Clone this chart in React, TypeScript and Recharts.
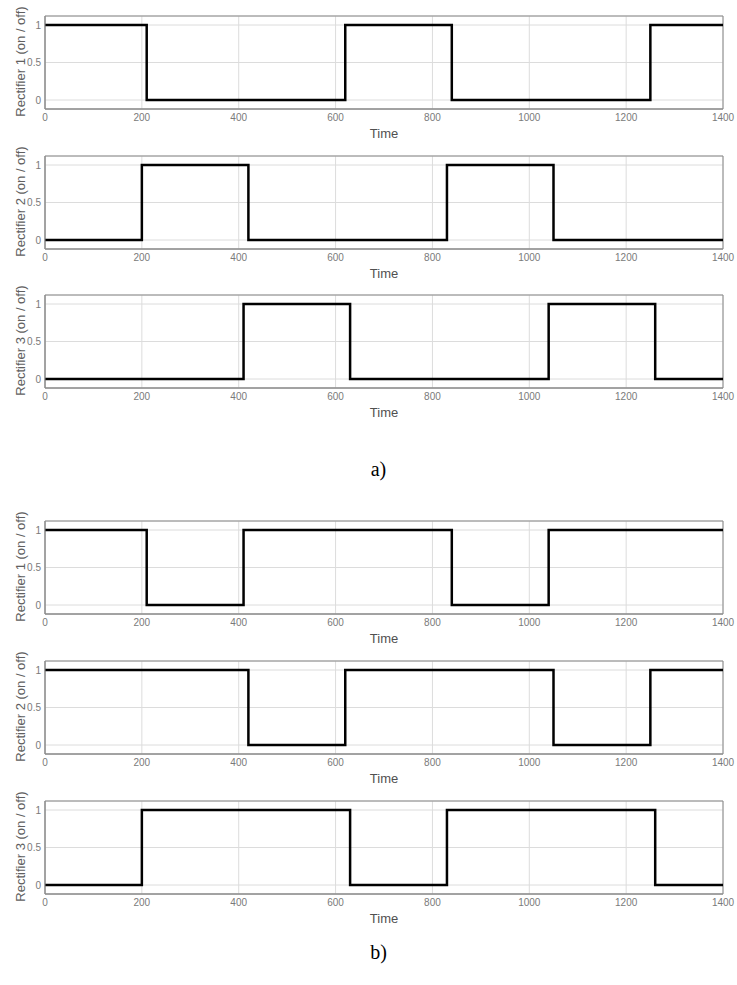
import { LineChart, Line, XAxis, YAxis, CartesianGrid, ReferenceArea } from 'recharts';

// switching instants and the state that holds from each instant on
const timeA1 = [0, 210, 620, 840, 1250, 1400];
const stateA1 = [1, 0, 1, 0, 1, 1];
const timeA2 = [0, 200, 420, 830, 1050, 1400];
const stateA2 = [0, 1, 0, 1, 0, 0];
const timeA3 = [0, 410, 630, 1040, 1260, 1400];
const stateA3 = [0, 1, 0, 1, 0, 0];

const timeB1 = [0, 210, 410, 840, 1040, 1400];
const stateB1 = [1, 0, 1, 0, 1, 1];
const timeB2 = [0, 420, 620, 1050, 1250, 1400];
const stateB2 = [1, 0, 1, 0, 1, 1];
const timeB3 = [0, 200, 630, 830, 1260, 1400];
const stateB3 = [0, 1, 0, 1, 0, 0];

const xTicks = [0, 200, 400, 600, 800, 1000, 1200, 1400];
const yTicks = [0, 0.5, 1];

const W = 737;
const H = 140;
const font = '"Liberation Sans", Arial, sans-serif';

const YLabel = ({ viewBox, value }: any) => {
  const cy = viewBox.y + viewBox.height / 2 - 1;
  return (
    <text
      x={20}
      y={cy}
      transform={`rotate(-90 20 ${cy})`}
      textAnchor="middle"
      dominantBaseline="central"
      fontSize={13}
      fontFamily={font}
      fill="#606060"
    >
      {value}
    </text>
  );
};

const XLabel = ({ viewBox }: any) => (
  <text
    x={viewBox.x + viewBox.width / 2}
    y={viewBox.y + 29}
    textAnchor="middle"
    fontSize={13}
    fontFamily={font}
    fill="#505050"
  >
    Time
  </text>
);

function Panel({ times, states, name, top }: { times: number[]; states: number[]; name: string; top: number }) {
  const data = times.map((t, i) => ({ t, v: states[i] }));
  return (
    <div style={{ position: 'absolute', left: 0, top }}>
      <LineChart width={W} height={H} data={data} margin={{ top: 16, right: 14, bottom: 6, left: 20 }}>
        <CartesianGrid stroke="#dcdcdc" strokeWidth={1} />
        <XAxis
          dataKey="t"
          type="number"
          domain={[0, 1400]}
          ticks={xTicks}
          height={25}
          tickSize={0}
          tickMargin={5}
          axisLine={{ stroke: '#8a8a8a' }}
          tick={{ fontSize: 10, fill: '#7a7a7a', fontFamily: font }}
          label={<XLabel />}
        />
        <YAxis
          type="number"
          domain={[-0.12, 1.12]}
          ticks={yTicks}
          width={25}
          tickSize={0}
          tickMargin={4}
          axisLine={{ stroke: '#8a8a8a' }}
          tick={{ fontSize: 10, fill: '#7a7a7a', fontFamily: font }}
          label={<YLabel value={name} />}
        />
        <ReferenceArea x1={0} x2={1400} y1={-0.12} y2={1.12} fill="none" stroke="#8a8a8a" strokeWidth={1} />
        <Line
          type="stepAfter"
          dataKey="v"
          stroke="#000"
          strokeWidth={2.5}
          dot={false}
          activeDot={false}
          isAnimationActive={false}
        />
      </LineChart>
    </div>
  );
}

const captionStyle: React.CSSProperties = {
  position: 'absolute',
  left: 0,
  width: W,
  textAlign: 'center',
  fontFamily: '"Liberation Serif", "Times New Roman", serif',
  fontSize: 20,
  color: '#000',
  lineHeight: '24px',
};

export default function App() {
  return (
    <div style={{ position: 'absolute', left: 0, top: 0, width: W, height: 985, background: '#fff' }}>
      <Panel times={timeA1} states={stateA1} name="Rectifier 1 (on / off)" top={0} />
      <Panel times={timeA2} states={stateA2} name="Rectifier 2 (on / off)" top={140} />
      <Panel times={timeA3} states={stateA3} name="Rectifier 3 (on / off)" top={279} />
      <div style={{ ...captionStyle, top: 457, left: 10 }}>a)</div>
      <Panel times={timeB1} states={stateB1} name="Rectifier 1 (on / off)" top={505} />
      <Panel times={timeB2} states={stateB2} name="Rectifier 2 (on / off)" top={645} />
      <Panel times={timeB3} states={stateB3} name="Rectifier 3 (on / off)" top={785} />
      <div style={{ ...captionStyle, top: 940, left: 10 }}>b)</div>
    </div>
  );
}
